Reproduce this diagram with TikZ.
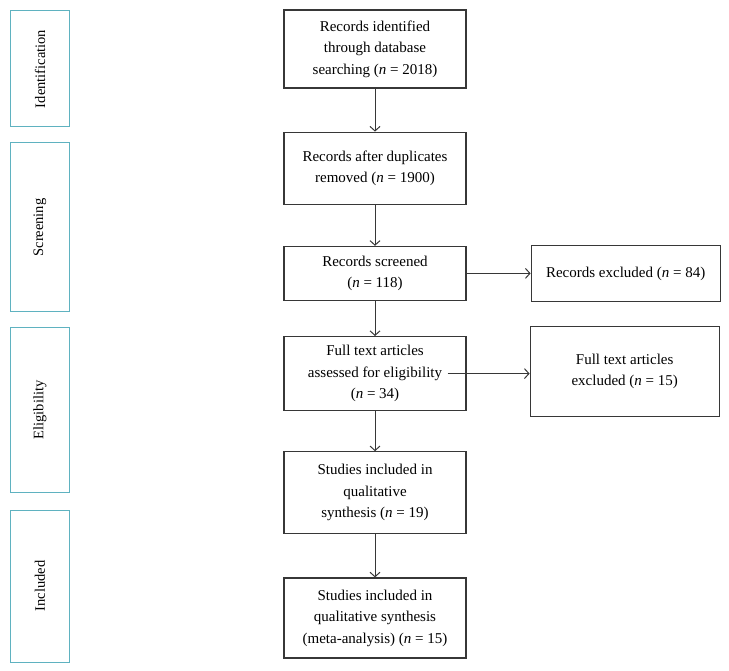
\documentclass[tikz,border=0pt]{standalone}
\usepackage{fontspec}
\setmainfont{Liberation Serif}
\usetikzlibrary{positioning,arrows.meta}
\definecolor{stageline}{RGB}{95,178,192}
\definecolor{boxline}{RGB}{55,55,55}

\begin{document}
\begin{tikzpicture}[x=1pt,y=-1pt,>={Straight Barb[length=4.5pt,width=10pt]},line width=1pt,
        main node/.style={rectangle, draw=boxline, line width=1.2pt, align=center,
        inner sep=0pt, minimum width=182pt, font=\fontsize{15}{21.5}\selectfont},
        side node/.style={main node, minimum width=189pt},
        stage node/.style={rectangle, draw=stageline, line width=1pt, rotate=90,
        inner sep=0pt, minimum height=59pt, font=\fontsize{14.5}{17}\selectfont}
        ]

        \useasboundingbox (0,0) rectangle (729,671);

        % stages
        \node [stage node, minimum width=116pt] (sident) at (40,69) {Identification} ;
        \node [stage node, minimum width=169pt] (sscreen) at (40,227.5) {Screening} ;
        \node [stage node, minimum width=164pt] (selig) at (40,410) {Eligibility} ;
        \node [stage node, minimum width=152pt] (sincl) at (40,586) {Included} ;

        % main column
        \node [main node, minimum height=78pt] (ident) at (375,49)
            {Records identified\\ through database\\ searching (\textit{n} = 2018)} ;
        \node [main node, minimum height=72pt] (dupl) [below=43pt of ident]
            {Records after duplicates\\ removed (\textit{n} = 1900)} ;
        \node [main node, minimum height=54pt] (screen) [below=41pt of dupl]
            {Records screened\\ (\textit{n} = 118)} ;
        \node [main node, minimum height=74pt] (elig) [below=35pt of screen]
            {Full text articles\\ assessed for eligibility\\ (\textit{n} = 34)} ;
        \node [main node, minimum height=82pt] (qual) [below=40pt of elig]
            {Studies included in\\ qualitative\\ synthesis (\textit{n} = 19)} ;
        \node [main node, minimum height=80pt] (meta) [below=43pt of qual]
            {Studies included in\\ qualitative synthesis\\ (meta-analysis) (\textit{n} = 15)} ;

        % exclusions
        \node [side node, minimum height=56pt] (excl1) [right=64pt of screen]
            {Records excluded (\textit{n} = 84)} ;
        \node [side node, minimum height=90pt] (excl2) [right=63pt of elig, yshift=2pt]
            {Full text articles\\ excluded (\textit{n} = 15)} ;

        \draw [->, boxline] (ident) -- (dupl) ;
        \draw [->, boxline] (dupl) -- (screen) ;
        \draw [->, boxline] (screen) -- (excl1) ;
        \draw [->, boxline] (screen) -- (elig) ;
        \draw [->, boxline] (elig) -- (qual) ;
        \draw [->, boxline] (qual) -- (meta) ;
        \draw [->, boxline] ([xshift=-19pt]elig.east) -- (elig.east -| excl2.west) ;
     \end{tikzpicture}
\end{document}
